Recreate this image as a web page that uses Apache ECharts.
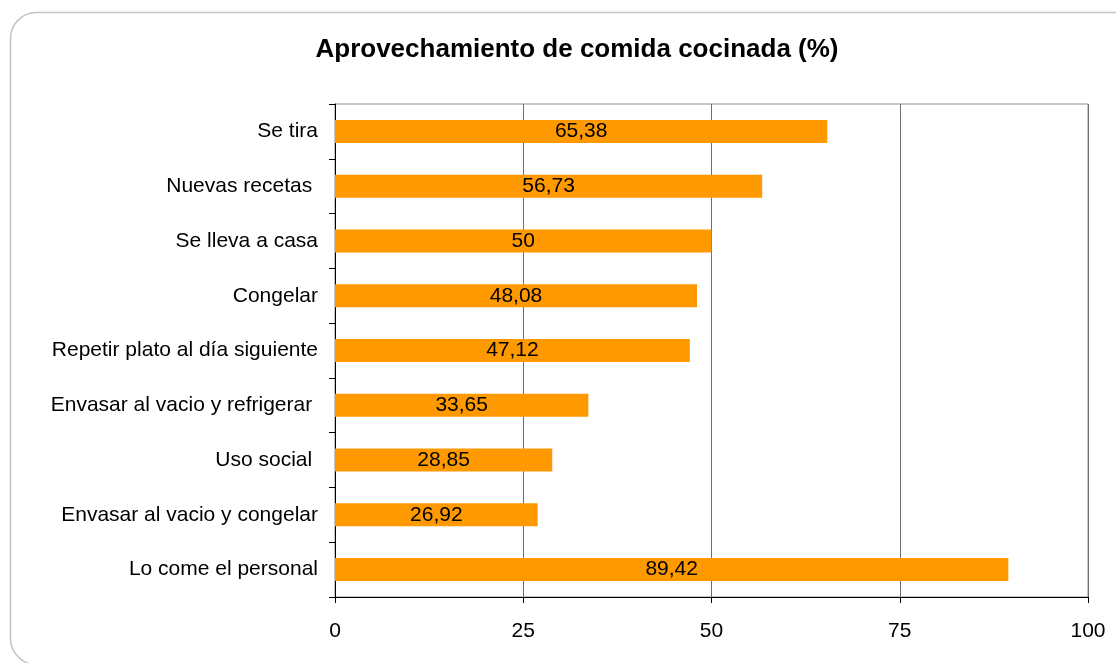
<!DOCTYPE html>
<html>
<head>
<meta charset="utf-8">
<script src="https://cdn.jsdelivr.net/npm/echarts@6/dist/echarts.min.js"></script>
<style>
html,body{margin:0;padding:0;background:#fff;}
#chart{width:1116px;height:663px;}
</style>
</head>
<body>
<div id="chart"></div>
<script>
const categories = [
  "Se tira",
  "Nuevas recetas ",
  "Se lleva a casa",
  "Congelar",
  "Repetir plato al día siguiente",
  "Envasar al vacio y refrigerar ",
  "Uso social ",
  "Envasar al vacio y congelar",
  "Lo come el personal"
];
const values = [65.38, 56.73, 50, 48.08, 47.12, 33.65, 28.85, 26.92, 89.42];
const titleText = "Aprovechamiento de comida cocinada (%)";

const chart = echarts.init(document.getElementById('chart'), null, {renderer: 'canvas'});
const font = "'Liberation Sans', Arial, sans-serif";
chart.setOption({
  animation: false,
  backgroundColor: '#fff',
  textStyle: {fontFamily: font},
  graphic: [{
    type: 'rect',
    shape: {x: 10.5, y: 12.5, width: 1135, height: 652, r: 26},
    style: {fill: 'none', stroke: '#c4c4c4', lineWidth: 1.5},
    z: -10
  }],
  title: {
    text: titleText,
    left: 572,
    textAlign: 'center',
    top: 32,
    textStyle: {fontSize: 26, fontWeight: 'bold', color: '#000', fontFamily: font}
  },
  grid: {
    left: 335, right: 28, top: 104, bottom: 66,
    show: true, borderColor: '#8c8c8c', borderWidth: 1, backgroundColor: 'transparent'
  },
  xAxis: {
    type: 'value',
    min: 0, max: 100, interval: 25,
    axisLine: {show: true, lineStyle: {color: '#000', width: 1}},
    axisTick: {show: true, length: 6, lineStyle: {color: '#000'}},
    splitLine: {show: true, lineStyle: {color: '#6e6e6e', width: 1}},
    axisLabel: {fontSize: 21, color: '#000', margin: 24, fontFamily: font}
  },
  yAxis: {
    type: 'category',
    data: categories,
    inverse: true,
    axisLine: {show: true, lineStyle: {color: '#000', width: 1}},
    axisTick: {show: true, length: 6, alignWithLabel: false, lineStyle: {color: '#000'}},
    axisLabel: {fontSize: 21, color: '#000', margin: 17, fontFamily: font}
  },
  series: [{
    type: 'bar',
    data: values,
    barWidth: 23,
    itemStyle: {color: '#FF9900'},
    label: {
      show: true,
      position: 'inside',
      color: '#000',
      fontSize: 21,
      fontFamily: font,
      formatter: p => String(p.value).replace('.', ',')
    }
  }]
});
</script>
</body>
</html>
